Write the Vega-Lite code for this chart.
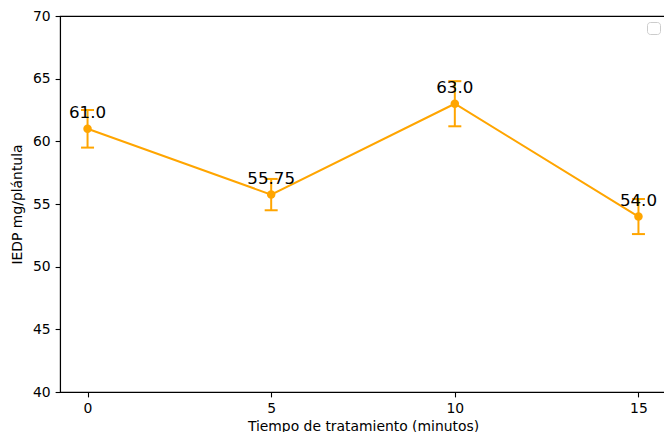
{
  "$schema": "https://vega.github.io/schema/vega-lite/v6.json",
  "width": 606,
  "height": 376,
  "autosize": {"type": "none"},
  "padding": {"left": 60, "top": 16, "right": 0, "bottom": 40},
  "background": "white",
  "config": {
    "font": "DejaVu Sans",
    "view": {"stroke": "black", "strokeWidth": 1.1},
    "axis": {
      "domainColor": "black",
      "domainWidth": 1.1,
      "tickColor": "black",
      "tickWidth": 1.1,
      "tickSize": 4.9,
      "labelFontSize": 13.9,
      "labelColor": "black",
      "labelPadding": 4.9,
      "titleFontSize": 13.9,
      "titleFontWeight": "normal",
      "titleColor": "black",
      "grid": false
    }
  },
  "data": {
    "values": [
      {"t": 0, "v": 61.0, "lo": 59.5, "hi": 62.5, "label": "61.0"},
      {"t": 5, "v": 55.75, "lo": 54.5, "hi": 57.0, "label": "55.75"},
      {"t": 10, "v": 63.0, "lo": 61.2, "hi": 64.8, "label": "63.0"},
      {"t": 15, "v": 54.0, "lo": 52.6, "hi": 55.4, "label": "54.0"}
    ]
  },
  "encoding": {
    "x": {
      "field": "t",
      "type": "quantitative",
      "scale": {"domain": [-0.75, 15.75], "nice": false, "zero": false},
      "axis": {"values": [0, 5, 10, 15], "title": "Tiempo de tratamiento (minutos)", "labelFlush": false, "titlePadding": 4}
    }
  },
  "layer": [
    {
      "mark": {"type": "rule", "color": "#FFA500", "strokeWidth": 2},
      "encoding": {
        "y": {"field": "lo", "type": "quantitative", "scale": {"domain": [40, 70], "nice": false, "zero": false}, "title": "IEDP mg/plántula"},
        "y2": {"field": "hi"}
      }
    },
    {
      "mark": {"type": "tick", "orient": "horizontal", "color": "#FFA500", "size": 13, "thickness": 2, "opacity": 1},
      "encoding": {
        "y": {"field": "lo", "type": "quantitative", "title": "IEDP mg/plántula"}
      }
    },
    {
      "mark": {"type": "tick", "orient": "horizontal", "color": "#FFA500", "size": 13, "thickness": 2, "opacity": 1},
      "encoding": {
        "y": {"field": "hi", "type": "quantitative", "title": "IEDP mg/plántula"}
      }
    },
    {
      "mark": {"type": "line", "strokeWidth": 2},
      "encoding": {
        "y": {"field": "v", "type": "quantitative", "title": "IEDP mg/plántula", "axis": {"values": [40, 45, 50, 55, 60, 65, 70], "titlePadding": 8}},
        "color": {
          "datum": "",
          "scale": {"range": ["#FFA500"]},
          "legend": {
            "orient": "top-right",
            "offset": 6,
            "title": null,
            "strokeColor": "#cccccc",
            "fillColor": "white",
            "cornerRadius": 3,
            "padding": 5,
            "symbolSize": 1,
            "symbolOpacity": 0,
            "labelFontSize": 1,
            "labelOffset": 0
          }
        }
      }
    },
    {
      "mark": {"type": "point", "filled": true, "color": "#FFA500", "size": 72, "opacity": 1},
      "encoding": {
        "y": {"field": "v", "type": "quantitative", "title": "IEDP mg/plántula"}
      }
    },
    {
      "mark": {"type": "text", "fontSize": 16.7, "baseline": "alphabetic", "align": "center", "dy": -11, "color": "black"},
      "encoding": {
        "y": {"field": "v", "type": "quantitative", "title": "IEDP mg/plántula"},
        "text": {"field": "label"}
      }
    }
  ]
}
